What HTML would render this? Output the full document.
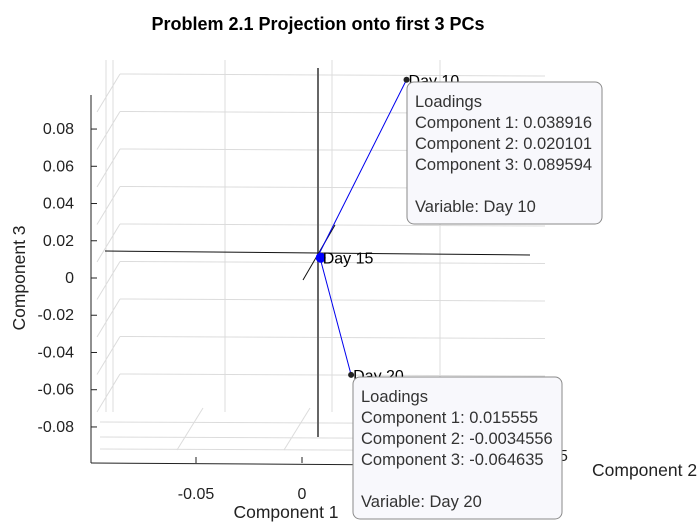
<!DOCTYPE html>
<html><head><meta charset="utf-8"><style>
body{margin:0;background:#fff;}
svg{display:block;font-family:"Liberation Sans",Arial,sans-serif;}
</style></head><body>
<svg width="700" height="525" viewBox="0 0 700 525">
<text x="318" y="30" text-anchor="middle" font-size="18" font-weight="bold" fill="#000">Problem 2.1 Projection onto first 3 PCs</text>
<g id="grid" stroke="#dcdcdc" stroke-width="1" fill="none"></g>
<g id="axes"></g>
<g id="marks"></g>
<g id="tips"></g>
</svg>
<script>
const varNames = ["Day 10","Day 15","Day 20"];
const comp1 = [0.038916, 0.0008, 0.015555];
const comp2 = [0.020101, 0.0, -0.0034556];
const comp3 = [0.089594, -0.002, -0.064635];
const zTicks = [0.08,0.06,0.04,0.02,0,-0.02,-0.04,-0.06,-0.08];
const zTickLabels = ["0.08","0.06","0.04","0.02","0","-0.02","-0.04","-0.06","-0.08"];
const xTicks = [-0.05,0];
const xTickLabels = ["-0.05","0"];
const tipIdx = [0,2];

const NS="http://www.w3.org/2000/svg";
function mk(tag,attrs,parent,txt){const e=document.createElementNS(NS,tag);for(const k in attrs)e.setAttribute(k,attrs[k]);if(txt!==undefined)e.textContent=txt;parent.appendChild(e);return e;}
const ox=319, oy=254;
function px(c1,c2){return ox+2120*c1+250*c2;}
function py(c2,c3){return oy-1848*c3-430*c2;}
function zFront(v){return 278-1862*v;}

const grid=document.getElementById('grid');
for(let i=0;i<9;i++){const y=74+37.5*i;
 let l=mk('line',{x1:120,y1:y,x2:545,y2:y+2},grid);
 
 let d=mk('line',{x1:120,y1:y,x2:97,y2:y+38},grid);
 }
[106,113,225,332,440].forEach(x=>{let l=mk('line',{x1:x,y1:60,x2:x,y2:412},grid);
 });
[422,437,449].forEach(y=>{let l=mk('line',{x1:100,y1:y,x2:560,y2:y+2},grid);
 });
[177,284,392].forEach(x=>{let l=mk('line',{x1:x,y1:450,x2:x+26,y2:408},grid);
 });

const axes=document.getElementById('axes');
let a=mk('line',{x1:91,y1:95,x2:91,y2:463,stroke:'#222','stroke-width':1},axes);

a=mk('line',{x1:91,y1:463,x2:560,y2:466,stroke:'#222','stroke-width':1},axes);

zTicks.forEach((v,i)=>{const y=zFront(v);
 let t=mk('line',{x1:91,y1:y,x2:97,y2:y,stroke:'#222'},axes);
 
 let tx=mk('text',{x:74,y:y+5,'text-anchor':'end','font-size':16,fill:'#222'},axes,zTickLabels[i]);
 });
xTicks.forEach((v,i)=>{const x=302+2120*v;
 let t=mk('line',{x1:x,y1:463,x2:x,y2:457,stroke:'#222'},axes);
 
 let tx=mk('text',{x:x,y:499,'text-anchor':'middle','font-size':16,fill:'#222'},axes,xTickLabels[i]);
 });
let lb=mk('text',{x:286,y:518,'text-anchor':'middle','font-size':17.5,fill:'#222'},axes,'Component 1');

lb=mk('text',{x:592,y:476,'font-size':17.5,fill:'#222'},axes,'Component 2');

lb=mk('text',{x:0,y:0,'text-anchor':'middle','font-size':17.5,fill:'#222',transform:'translate(25,278) rotate(-90)'},axes,'Component 3');

lb=mk('text',{x:559,y:461,'font-size':16,fill:'#222'},axes,'5');


a=mk('line',{x1:318,y1:68,x2:318,y2:437,stroke:'#666','stroke-width':2},axes);

a=mk('line',{x1:105,y1:251,x2:530,y2:255,stroke:'#111','stroke-width':1},axes);

a=mk('line',{x1:303,y1:280,x2:335,y2:225,stroke:'#111','stroke-width':1},axes);


const marks=document.getElementById('marks');
varNames.forEach((n,i)=>{const x=px(comp1[i],comp2[i]), y=py(comp2[i],comp3[i]);
 let l=mk('line',{x1:ox,y1:oy,x2:x,y2:y,stroke:'#0000ee','stroke-width':1},marks);
 
 const isTip=tipIdx.includes(i);
 let c=mk('circle',{cx:x,cy:y,r:isTip?3:5,fill:isTip?'#222':'#0000ff'},marks);
 
 let t=mk('text',{x:x+2,y:y+6,'font-size':16,fill:'#000'},marks,n);
 });

const tips=document.getElementById('tips');
const tipBoxes=[[407,82],[353,377]];
tipIdx.forEach((i,k)=>{const [bx,by]=tipBoxes[k];
 const vals=[comp1[i],comp2[i],comp3[i]];
 const w=k===0?195:209;
 let r=mk('rect',{x:bx,y:by,width:w,height:142,rx:7,fill:'#f8f8fc',stroke:'#8a8a8a','stroke-width':1},tips);
 
 const lines=['Loadings','Component 1: '+vals[0],'Component 2: '+vals[1],'Component 3: '+vals[2],'','Variable: '+varNames[i]];
 lines.forEach((s,j)=>{if(!s)return;
  let t=mk('text',{x:bx+8,y:by+25+21*j,'font-size':16.5,fill:'#333'},tips,s);
  });});
</script>
</body></html>
